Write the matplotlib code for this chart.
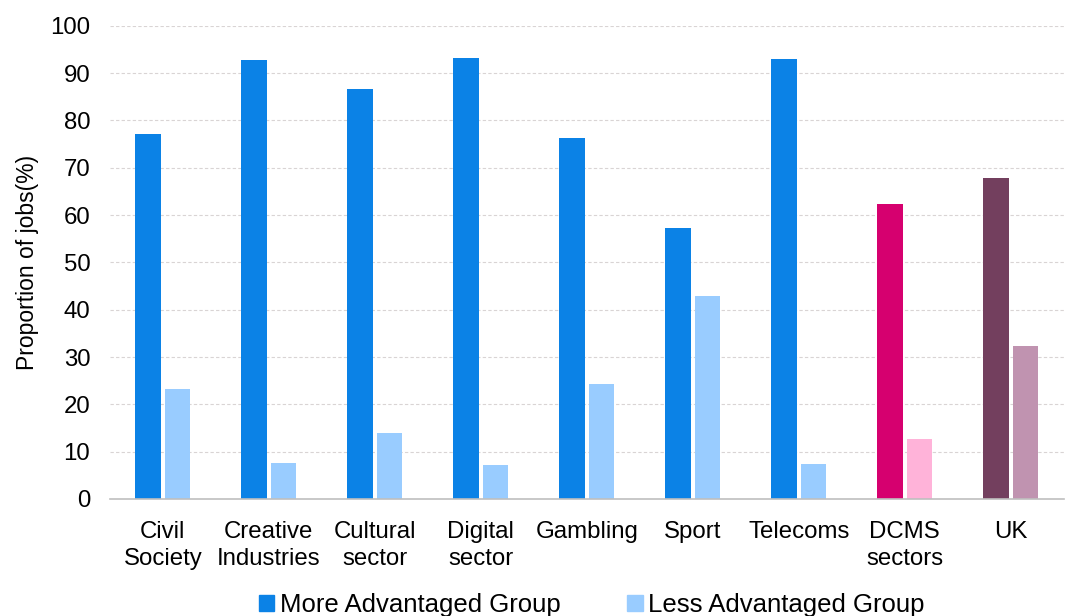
import matplotlib.pyplot as plt
import numpy as np
from matplotlib.patches import Patch

plt.rcParams['font.family'] = ['Liberation Sans', 'DejaVu Sans']

categories = ['Civil\nSociety', 'Creative\nIndustries', 'Cultural\nsector', 'Digital\nsector',
              'Gambling', 'Sport', 'Telecoms', 'DCMS\nsectors', 'UK']
more_adv = [77.2, 92.8, 86.6, 93.3, 76.2, 57.3, 93.1, 62.3, 67.9]
less_adv = [23.3, 7.6, 14.0, 7.2, 24.3, 42.9, 7.4, 12.7, 32.3]

more_colors = ['#0b82e6'] * 7 + ['#d6006f', '#733f5e']
less_colors = ['#99ccff'] * 7 + ['#ffb3d9', '#c093b0']

fig = plt.figure(figsize=(10.66, 6.16), dpi=100)
ax = fig.add_axes([0.103, 0.19, 0.895, 0.768])

x = np.arange(len(categories))
w = 0.24
ax.bar(x - 0.14, more_adv, w, color=more_colors)
ax.bar(x + 0.14, less_adv, w, color=less_colors)

ax.set_xlim(-0.5, len(categories) - 0.5)
ax.set_ylim(0, 100)
ax.set_yticks(range(0, 101, 10))
ax.set_xticks(x)
ax.set_xticklabels(categories, fontsize=17.3, linespacing=1.3)
ax.tick_params(axis='y', labelsize=17.3, length=0, pad=14)
ax.tick_params(axis='x', length=0, pad=16)
ax.yaxis.grid(True, linestyle=(0, (3, 2)), color='#d9d4d4', linewidth=0.8)
ax.set_axisbelow(True)
for s in ['top', 'right', 'left']:
    ax.spines[s].set_visible(False)
ax.spines['bottom'].set_color('#bfbfbf')
ax.spines['bottom'].set_linewidth(1.2)
ax.set_ylabel('Proportion of jobs(%)', fontsize=16.5, labelpad=8)

# legend sits at the very bottom edge, as in the source
handles = [Patch(color='#0b82e6', label='More Advantaged Group'),
           Patch(color='#99ccff', label='Less Advantaged Group')]
fig.legend(handles=handles, loc='center', bbox_to_anchor=(0.555, 0.018), ncol=2,
           frameon=False, fontsize=18.5, handlelength=0.6, handleheight=0.6,
           handletextpad=0.2, columnspacing=2.6)

fig.savefig('out.png', dpi=100)
